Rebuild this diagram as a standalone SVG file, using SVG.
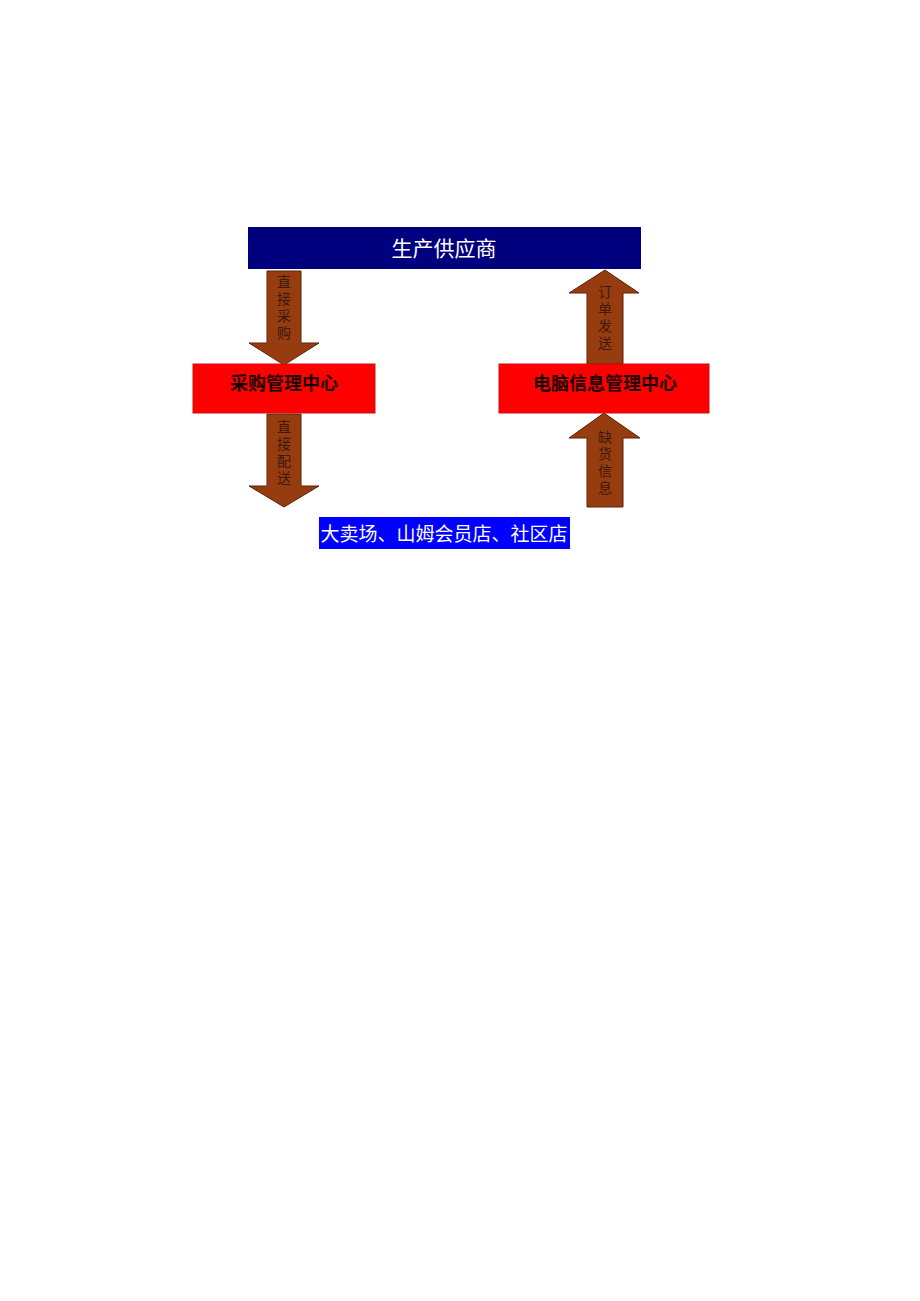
<svg xmlns="http://www.w3.org/2000/svg" width="920" height="1301" viewBox="0 0 920 1301">
<style>
.arrow{fill:#963c0e;stroke:#5a230a;stroke-width:1}
.albl{font-family:"Noto Sans CJK SC","Liberation Serif",serif;font-size:14px;fill:#3c1a0c;writing-mode:vertical-rl;letter-spacing:3px}
.red{fill:#ff0000;stroke:#cc1010;stroke-width:1}
.rlbl{font-family:"Noto Sans CJK SC",sans-serif;font-size:18px;font-weight:bold;fill:#1a0000;text-anchor:middle}
.wlbl{font-family:"Noto Sans CJK SC",sans-serif;fill:#ffffff;text-anchor:middle}
</style>
<rect width="920" height="1301" fill="#ffffff"/>
<g id="connectors">
<g id="arrow-purchase">
<polygon class="arrow" points="267,271 301,271 301,343 319,343 284,365 249,343 267,343"/>
<text class="albl" x="284" y="275">直接采购</text>
</g>
<g id="arrow-deliver">
<polygon class="arrow" points="267,414 301,414 301,486 319,486 284,507 249,486 267,486"/>
<text class="albl" x="284" y="420">直接配送</text>
</g>
<g id="arrow-order">
<polygon class="arrow" points="587,364 623,364 623,293 639,293 605,270 569,293 587,293"/>
<text class="albl" x="605" y="285">订单发送</text>
</g>
<g id="arrow-shortage">
<polygon class="arrow" points="587,507 623,507 623,438 640,438 604,413 569,438 587,438"/>
<text class="albl" x="605" y="430">缺货信息</text>
</g>
</g>
<g id="supplier">
<rect x="248" y="227" width="393" height="42" fill="#00007e"/>
<text class="wlbl" x="444" y="256" font-size="21">生产供应商</text>
</g>
<g id="purchase-center">
<rect class="red" x="193" y="364" width="182" height="49"/>
<text class="rlbl" x="284" y="390">采购管理中心</text>
</g>
<g id="info-center">
<rect class="red" x="499" y="364" width="210" height="49"/>
<text class="rlbl" x="605" y="390">电脑信息管理中心</text>
</g>
<g id="stores">
<rect x="319" y="517" width="251" height="32" fill="#0000ff"/>
<text class="wlbl" x="444" y="541" font-size="19">大卖场、山姆会员店、社区店</text>
</g>
</svg>
